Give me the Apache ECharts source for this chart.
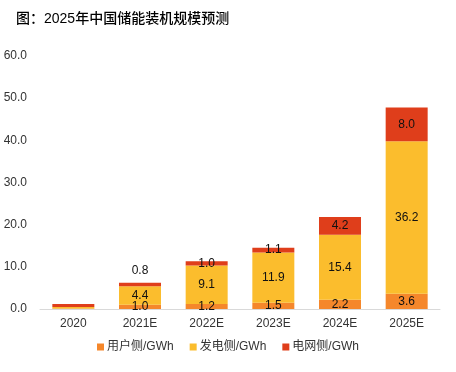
<!DOCTYPE html>
<html><head><meta charset="utf-8">
<script src="https://cdn.jsdelivr.net/npm/echarts@6/dist/echarts.min.js"></script>
<style>html,body{margin:0;padding:0;background:#fff}#c{width:456px;height:372px}</style>
</head><body><div id="c"></div>
<script>
const categories = ['2020','2021E','2022E','2023E','2024E','2025E'];
const userSide = [0.1, 1.0, 1.2, 1.5, 2.2, 3.6];
const genSide = [0.4, 4.4, 9.1, 11.9, 15.4, 36.2];
const gridSide = [0.7, 0.8, 1.0, 1.1, 4.2, 8.0];
const yTicks = [0, 10, 20, 30, 40, 50, 60];
const seriesNames = ['用户侧/GWh', '发电侧/GWh', '电网侧/GWh'];
const colors = ['#F5872B', '#FBBD2D', '#DF3E1B'];

const chart = echarts.init(document.getElementById('c'), null, {renderer:'canvas'});
const font = 'Arial, "Liberation Sans", "Noto Sans CJK SC", sans-serif';
function mkLabel(vals, name){
  return vals.map((v,i)=>{
    const d = {value:v};
    if (categories[i]==='2020') d.label = {show:false};
    else if (name==='grid' && categories[i]==='2021E') d.label = {show:true, position:'top', distance:6};
    return d;
  });
}
const lbl = {show:true, position:'inside', color:'#111', fontSize:12, fontFamily:font, formatter:p=>p.value.toFixed(1)};
chart.setOption({
  animation:false,
  title:{text:'图：2025年中国储能装机规模预测', left:11, top:7,
    textStyle:{fontSize:14, fontWeight:500, color:'#000', fontFamily:font}},
  grid:{left:40, right:16, top:56, bottom:63},
  legend:{bottom:14, left:'center', itemWidth:7, itemHeight:7, itemGap:16,
    icon:'rect', textStyle:{fontSize:12, color:'#333', fontFamily:font, padding:[0,0,0,-2]},
    data:seriesNames},
  xAxis:{type:'category', data:categories,
    axisLine:{lineStyle:{color:'#D9D9D9', width:1}}, axisTick:{show:false},
    axisLabel:{fontSize:12, color:'#333', fontFamily:font, margin:9}},
  yAxis:{type:'value', min:yTicks[0], max:yTicks[yTicks.length-1], interval:10,
    splitLine:{show:false}, axisLine:{show:false}, axisTick:{show:false},
    axisLabel:{fontSize:12, color:'#333', fontFamily:font, margin:13, formatter:v=>v.toFixed(1)}},
  series:[
    {name:seriesNames[0], type:'bar', stack:'s', barWidth:'63%', data:mkLabel(userSide,'user'), itemStyle:{color:colors[0]}, label:lbl},
    {name:seriesNames[1], type:'bar', stack:'s', data:mkLabel(genSide,'gen'), itemStyle:{color:colors[1]}, label:lbl},
    {name:seriesNames[2], type:'bar', stack:'s', data:mkLabel(gridSide,'grid'), itemStyle:{color:colors[2]}, label:lbl}
  ]
});
</script></body></html>
